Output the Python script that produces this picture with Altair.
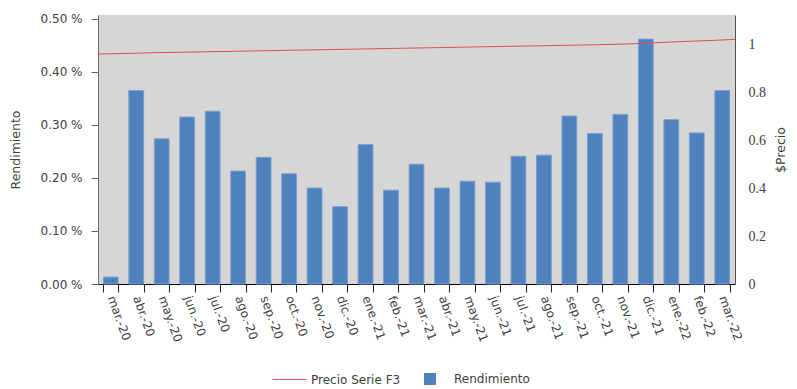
import altair as alt
import pandas as pd

meses = ["mar.-20", "abr.-20", "may.-20", "jun.-20", "jul.-20", "ago.-20", "sep.-20",
         "oct.-20", "nov.-20", "dic.-20", "ene.-21", "feb.-21", "mar.-21", "abr.-21",
         "may.-21", "jun.-21", "jul.-21", "ago.-21", "sep.-21", "oct.-21", "nov.-21",
         "dic.-21", "ene.-22", "feb.-22", "mar.-22"]
rendimiento = [0.013, 0.365, 0.274, 0.315, 0.326, 0.213, 0.239, 0.208, 0.181, 0.146,
               0.263, 0.177, 0.226, 0.181, 0.194, 0.192, 0.241, 0.243, 0.317, 0.284,
               0.320, 0.462, 0.310, 0.285, 0.365]
precio = [0.962, 0.964, 0.967, 0.969, 0.971, 0.973, 0.975, 0.977, 0.979, 0.981,
          0.983, 0.985, 0.987, 0.989, 0.991, 0.993, 0.995, 0.997, 0.999, 1.001,
          1.004, 1.009, 1.014, 1.018, 1.023]
y_left_ticks = [0.0, 0.1, 0.2, 0.3, 0.4, 0.5]
y_right_ticks = [0, 0.2, 0.4, 0.6, 0.8, 1]

df = pd.DataFrame({
    "mes": meses,
    "idx": list(range(len(meses))),
    "rend": rendimiento,
    "precio": precio,
    "s_bar": "Rendimiento",
    "s_line": "Precio Serie F3",
})

FONT = "DejaVu Sans"
TXT = "#404040"

bars = alt.Chart(df).mark_bar(stroke="#7aa0d0", strokeWidth=1).encode(
    x=alt.X("mes:N", sort=meses,
            scale=alt.Scale(paddingInner=0.42, paddingOuter=0.21),
            axis=alt.Axis(title=None, labelAngle=70, labelAlign="left", labelBaseline="middle",
                          tickBand="extent", tickSize=8, tickColor="#202020",
                          domainColor="#000000", labelPadding=4, labelFont=FONT,
                          labelFontSize=12, labelColor=TXT, grid=False)),
    y=alt.Y("rend:Q", scale=alt.Scale(domain=[0, 0.5075], nice=False, zero=True),
            axis=alt.Axis(title="Rendimiento", values=y_left_ticks,
                          labelExpr="format(datum.value, '.2f') + ' %'",
                          orient="left", grid=False, tickSize=7, tickColor="#606060",
                          domainColor="#707070", labelPadding=9, labelFont=FONT,
                          labelFontSize=12, labelColor=TXT, titleFont=FONT,
                          titleFontSize=12.5, titleFontWeight="normal", titleColor=TXT,
                          titlePadding=18)),
    fill=alt.Fill("s_bar:N", scale=alt.Scale(domain=["Rendimiento"], range=["#4f81bd"]),
                  legend=alt.Legend(title=None, orient="none", legendX=326, legendY=358,
                                    symbolType="square", symbolSize=144, symbolStrokeWidth=0,
                                    labelOffset=18, padding=0, labelFont=FONT,
                                    labelFontSize=12, labelColor=TXT)),
)

line = alt.Chart(df).mark_line(strokeWidth=1).encode(
    x=alt.X("idx:Q", scale=alt.Scale(domain=[0, 24], nice=False, zero=False), axis=None),
    y=alt.Y("precio:Q", scale=alt.Scale(domain=[0, 1.125], nice=False, zero=True),
            axis=alt.Axis(orient="right", title="$Precio", values=y_right_ticks, format="~g",
                          ticks=False, grid=False, domainColor="#505050", labelPadding=13,
                          labelFont="Liberation Serif", labelFontSize=14, labelColor=TXT,
                          titleFont=FONT, titleFontSize=12.5, titleFontWeight="normal",
                          titleColor=TXT, titleAngle=270, titlePadding=22)),
    stroke=alt.Stroke("s_line:N", scale=alt.Scale(domain=["Precio Serie F3"], range=["#d9534f"]),
                      legend=alt.Legend(title=None, orient="none", legendX=174, legendY=347,
                                        symbolType="stroke", symbolSize=1156,
                                        symbolStrokeWidth=1, labelOffset=4, padding=0,
                                        labelFont=FONT, labelFontSize=12, labelColor=TXT)),
)

chart = alt.layer(bars, line).resolve_scale(
    x="independent", y="independent", fill="independent", stroke="independent"
).properties(
    width=637, height=269,
    autosize=alt.AutoSizeParams(type="none"),
    padding={"left": 90, "top": 7, "right": 54, "bottom": 105},
    background="white",
).configure_view(fill="#d6d6d6", stroke=None)

chart.save("out.html", embed_options={"renderer": "svg", "actions": False})
